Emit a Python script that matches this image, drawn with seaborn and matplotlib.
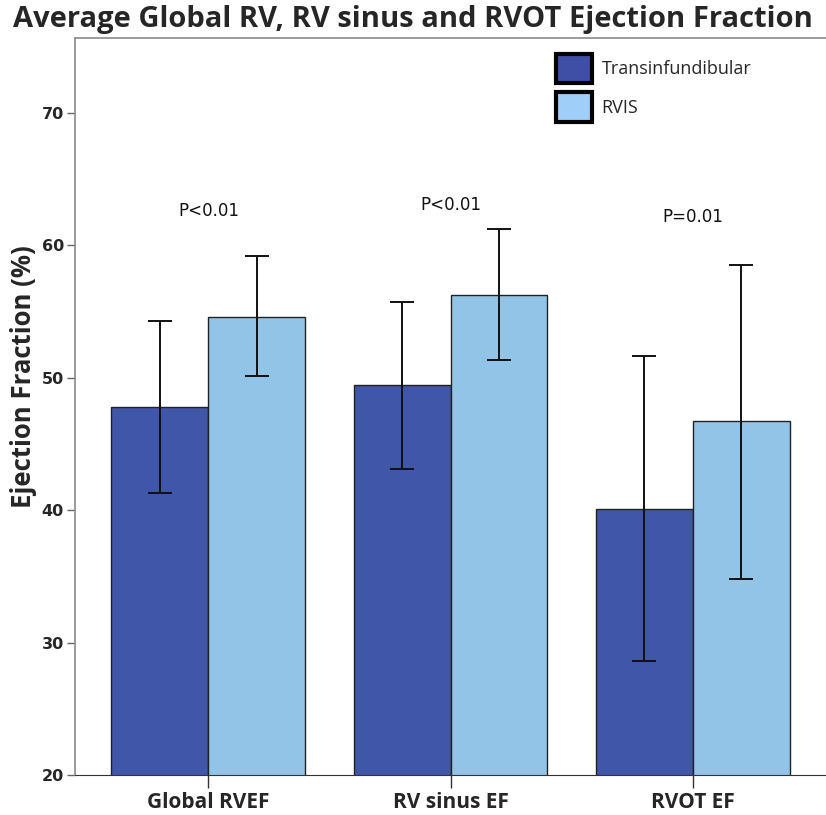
import pandas as pd
import seaborn as sns
import matplotlib.pyplot as plt
from matplotlib.patches import Patch

# values
measures = ['Global RVEF', 'RV sinus EF', 'RVOT EF']
groups = ['Transinfundibular', 'RVIS']
trans_mean = [47.8, 49.4, 40.1]
trans_low = [41.3, 43.1, 28.6]
trans_high = [54.3, 55.7, 51.6]
rvis_mean = [54.6, 56.2, 46.7]
rvis_low = [50.1, 51.3, 34.8]
rvis_high = [59.2, 61.2, 58.5]
p_labels = ['P<0.01', 'P<0.01', 'P=0.01']
p_heights = [62.6, 63.0, 62.1]
y_ticks = [20, 30, 40, 50, 60, 70]

bar_colors = ['#3F56A9', '#92C4E7']
legend_colors = ['#3F4FA6', '#9FCFF8']

df = pd.DataFrame({
    'Measure': measures * 2,
    'Group': [groups[0]] * 3 + [groups[1]] * 3,
    'EF': trans_mean + rvis_mean,
})

sns.set_style('white')
plt.rcParams['font.family'] = ['Open Sans', 'DejaVu Sans']

fig = plt.figure(figsize=(8.26, 8.15), dpi=100)
ax = fig.add_axes([0.091, 0.049, 0.909, 0.904])

sns.barplot(data=df, x='Measure', y='EF', hue='Group', order=measures,
            hue_order=groups, palette=bar_colors, saturation=1, errorbar=None,
            edgecolor='#222222', linewidth=1.0, width=0.8, ax=ax, legend=False)

# error bars at the bar centres
lows = [trans_low, rvis_low]
highs = [trans_high, rvis_high]
for cont, lo, hi in zip(ax.containers, lows, highs):
    for bar, l, h in zip(cont, lo, hi):
        xc = bar.get_x() + bar.get_width() / 2
        ax.errorbar([xc], [(l + h) / 2], yerr=[[(h - l) / 2]], fmt='none',
                    ecolor='#111111', elinewidth=1.4, capsize=8.5, capthick=1.4)

# p-value annotations
for i, (lab, yy) in enumerate(zip(p_labels, p_heights)):
    ax.text(i, yy, lab, ha='center', va='center', fontsize=12,
            family=['DejaVu Sans'], color='#111111')

ax.set_xlim(-0.55, 2.55)
ax.set_ylim(20, 75.6)
ax.set_yticks(y_ticks)
ax.set_yticklabels([str(t) for t in y_ticks], fontsize=11.5,
                   fontweight='bold', family=['DejaVu Sans'])
ax.set_xticks(range(len(measures)))
ax.set_xticklabels(measures, fontsize=15, fontweight='bold')
ax.tick_params(axis='x', length=9, width=1, color='#333333', pad=3, bottom=True)
ax.tick_params(axis='y', length=6, width=1, color='#666666', pad=2, left=True)
ax.set_xlabel('')
ax.set_ylabel('Ejection Fraction (%)', fontsize=18.5, fontweight='bold')
ax.yaxis.set_label_coords(-0.051, 0.541)

for side in ['top', 'left']:
    ax.spines[side].set_color('#8a8a8a')
    ax.spines[side].set_linewidth(1.2)
ax.spines['bottom'].set_color('#333333')
ax.spines['right'].set_visible(False)

handles = [Patch(facecolor=c, edgecolor='black', linewidth=3, label=g)
           for c, g in zip(legend_colors, groups)]
ax.legend(handles=handles, loc='upper left', bbox_to_anchor=(0.6726, 0.934),
          bbox_transform=fig.transFigure, frameon=False, fontsize=13,
          handlelength=2.0, handleheight=2.15, labelspacing=0.5,
          handletextpad=0.55, borderpad=0, borderaxespad=0)

fig.text(0.5, 0.976, 'Average Global RV, RV sinus and RVOT Ejection Fraction',
         ha='center', va='center', fontsize=21, fontweight='bold')

fig.savefig('out.png', dpi=100)
